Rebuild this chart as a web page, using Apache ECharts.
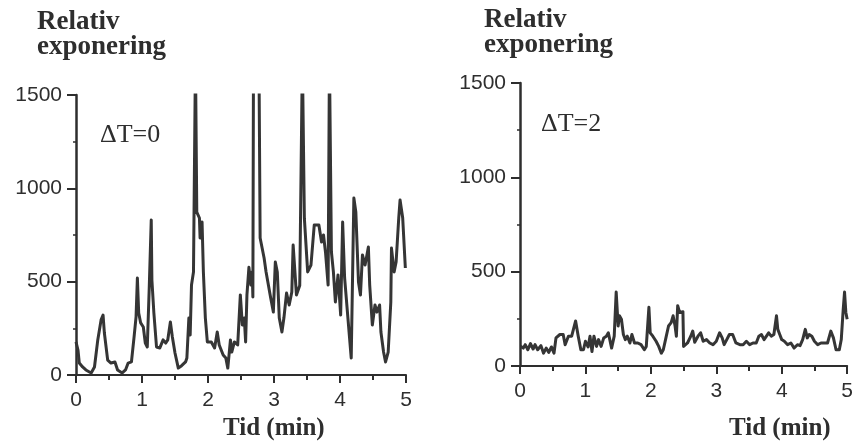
<!DOCTYPE html>
<html>
<head>
<meta charset="utf-8">
<script src="https://cdn.jsdelivr.net/npm/echarts@6/dist/echarts.min.js"></script>
<style>
  html, body { margin: 0; padding: 0; background: #ffffff; }
  #chart { width: 856px; height: 443px; }
</style>
</head>
<body>
<div id="chart"></div>
<script>
// Relative exposure over time, two conditions (ΔT=0 and ΔT=2)
const xTicks = [0, 1, 2, 3, 4, 5];
const yTicks = [0, 500, 1000, 1500];

// ΔT=0 trace: time (min) and relative exposure
const timeDT0 = [0, 0.03, 0.05, 0.10, 0.15, 0.23, 0.28, 0.33, 0.38, 0.41, 0.43, 0.48, 0.53, 0.59, 0.63, 0.66, 0.70, 0.75, 0.79, 0.84,
  0.88, 0.91, 0.93, 0.95, 0.98, 1.02, 1.05, 1.08, 1.11, 1.14, 1.15, 1.18, 1.22, 1.27, 1.32, 1.36, 1.39, 1.43, 1.46, 1.50,
  1.55, 1.60, 1.66, 1.68, 1.71, 1.73, 1.75, 1.78, 1.81, 1.83, 1.87, 1.88, 1.91, 1.93, 1.96, 1.99, 2.05, 2.10, 2.14, 2.17,
  2.23, 2.27, 2.30, 2.34, 2.36, 2.40, 2.45, 2.49, 2.52, 2.55, 2.57, 2.59, 2.62, 2.65, 2.67, 2.68, 2.69, 2.73, 2.77, 2.79,
  2.85, 2.88, 2.91, 2.95, 2.99, 3.02, 3.05, 3.08, 3.12, 3.15, 3.19, 3.23, 3.27, 3.29, 3.34, 3.39, 3.43, 3.46, 3.51, 3.56,
  3.61, 3.68, 3.72, 3.75, 3.78, 3.82, 3.84, 3.87, 3.90, 3.93, 3.97, 4.01, 4.04, 4.07, 4.12, 4.17, 4.21, 4.24, 4.28, 4.31,
  4.34, 4.38, 4.40, 4.43, 4.45, 4.49, 4.53, 4.56, 4.60, 4.62, 4.66, 4.69, 4.73, 4.77, 4.78, 4.82, 4.85, 4.89, 4.91, 4.95, 4.99];
const exposureDT0 = [177, 134, 64, 43, 27, 11, 43, 188, 295, 321, 225, 80, 64, 70, 27, 37, 11, 27, 64, 70,
  204, 311, 520, 332, 279, 257, 171, 150, 471, 830, 509, 332, 150, 145, 188, 171, 188, 284, 204, 118,
  37, 50, 70, 91, 305, 214, 482, 552, 1700, 873, 841, 734, 820, 552, 305, 177, 177, 145, 230, 161,
  107, 91, 37, 188, 123, 177, 161, 429, 268, 305, 177, 429, 577, 482, 552, 418, 1800, 1900, 1800, 734,
  627, 552, 560, 412, 337, 605, 552, 305, 230, 305, 439, 375, 445, 696, 429, 480, 1700, 840, 552, 589,
  804, 804, 712, 750, 659, 482, 1700, 659, 552, 391, 536, 321, 820, 520, 305, 91, 948, 873, 498, 429,
  643, 589, 627, 686, 482, 268, 375, 337, 375, 230, 123, 70, 123, 391, 680, 552, 605, 841, 937, 841, 573];

// ΔT=2 trace: time (min) and relative exposure
const timeDT2 = [0.01, 0.05, 0.08, 0.12, 0.16, 0.20, 0.23, 0.27, 0.32, 0.36, 0.40, 0.44, 0.48, 0.52, 0.55, 0.61, 0.66, 0.69, 0.74, 0.79,
  0.85, 0.89, 0.93, 0.97, 1.00, 1.04, 1.07, 1.10, 1.13, 1.17, 1.20, 1.24, 1.28, 1.32, 1.35, 1.40, 1.44, 1.47, 1.50, 1.52,
  1.55, 1.58, 1.61, 1.64, 1.68, 1.71, 1.75, 1.80, 1.85, 1.90, 1.93, 1.97, 1.99, 2.03, 2.08, 2.12, 2.16, 2.19, 2.23, 2.27,
  2.31, 2.34, 2.37, 2.39, 2.41, 2.44, 2.47, 2.49, 2.50, 2.56, 2.61, 2.64, 2.67, 2.72, 2.76, 2.80, 2.85, 2.90, 2.95, 3.00,
  3.05, 3.09, 3.12, 3.16, 3.20, 3.25, 3.30, 3.36, 3.41, 3.46, 3.51, 3.56, 3.61, 3.65, 3.69, 3.73, 3.76, 3.80, 3.84, 3.88,
  3.92, 3.94, 3.97, 4.00, 4.04, 4.09, 4.14, 4.19, 4.24, 4.28, 4.32, 4.36, 4.39, 4.42, 4.46, 4.50, 4.55, 4.60, 4.65, 4.70,
  4.75, 4.79, 4.83, 4.88, 4.91, 4.94, 4.96, 4.98, 5.00];
const exposureDT2 = [104, 95, 113, 86, 119, 90, 113, 86, 108, 68, 95, 72, 101, 68, 149, 167, 167, 113, 158, 158,
  239, 158, 86, 86, 131, 101, 158, 77, 158, 104, 140, 104, 149, 158, 176, 95, 158, 392, 212, 266,
  248, 167, 140, 158, 122, 167, 122, 122, 113, 86, 104, 311, 176, 158, 131, 104, 68, 86, 149, 212,
  230, 266, 212, 158, 320, 284, 284, 288, 104, 122, 158, 185, 126, 158, 176, 131, 140, 122, 113, 131,
  176, 149, 113, 140, 167, 167, 122, 113, 113, 131, 113, 122, 122, 158, 167, 140, 149, 176, 158, 167,
  266, 194, 167, 140, 131, 113, 122, 95, 113, 108, 140, 194, 149, 167, 158, 131, 113, 122, 122, 122,
  185, 149, 86, 86, 140, 302, 392, 284, 248];

const pairs = (ts, vs) => ts.map((t, i) => [t, vs[i]]);

const ink = '#2e2e2e';
const lineInk = '#353535';
const serif = '"Liberation Serif", "DejaVu Serif", serif';
const sans = '"Liberation Sans", Arial, sans-serif';

function xAxisFor(gridIndex) {
  return {
    gridIndex, type: 'value', min: xTicks[0], max: xTicks[xTicks.length - 1], interval: 1,
    axisLine: { show: true, onZero: false, lineStyle: { color: ink, width: 2 } },
    axisTick: { show: true, length: 8, lineStyle: { color: ink, width: 2 } },
    minorTick: { show: true, splitNumber: 2, length: 5, lineStyle: { color: ink, width: 2 } },
    splitLine: { show: false }, minorSplitLine: { show: false },
    axisLabel: { color: ink, fontSize: 21, fontFamily: sans, margin: 15, formatter: v => String(v) }
  };
}
function yAxisFor(gridIndex) {
  return {
    gridIndex, type: 'value', min: yTicks[0], max: yTicks[yTicks.length - 1], interval: 500,
    axisLine: { show: true, onZero: false, lineStyle: { color: ink, width: 2.5 } },
    axisTick: { show: true, length: 9, lineStyle: { color: ink, width: 2 } },
    minorTick: { show: true, splitNumber: 2, length: 3, lineStyle: { color: ink, width: 1.5 } },
    splitLine: { show: false }, minorSplitLine: { show: false },
    axisLabel: { color: ink, fontSize: 21, fontFamily: sans, margin: 14, formatter: v => String(v) }
  };
}

const headStyle = { fontFamily: serif, fontWeight: 'bold', fontSize: 27, lineHeight: 25, color: ink };
const tagStyle = { fontFamily: serif, fontWeight: 'normal', fontSize: 26, color: ink };
const axisNameStyle = { fontFamily: serif, fontWeight: 'bold', fontSize: 25, color: ink };

const chart = echarts.init(document.getElementById('chart'), null, { renderer: 'canvas' });
chart.setOption({
  backgroundColor: '#ffffff',
  animation: false,
  title: [
    { text: 'Relativ\nexponering', left: 37, top: 10, padding: 0, textStyle: headStyle },
    { text: 'Relativ\nexponering', left: 484, top: 8, padding: 0, textStyle: headStyle },
    { text: 'ΔT=0', left: 100, top: 122, padding: 0, textStyle: tagStyle },
    { text: 'ΔT=2', left: 541, top: 111, padding: 0, textStyle: tagStyle },
    { text: 'Tid (min)', left: 223, top: 416, padding: 0, textStyle: axisNameStyle },
    { text: 'Tid (min)', left: 729, top: 416, padding: 0, textStyle: axisNameStyle }
  ],
  grid: [
    { left: 76, top: 95, width: 330, height: 280 },
    { left: 520, top: 83, width: 329, height: 283 }
  ],
  xAxis: [xAxisFor(0), xAxisFor(1)],
  yAxis: [yAxisFor(0), yAxisFor(1)],
  series: [
    {
      name: 'ΔT=0', type: 'line', xAxisIndex: 0, yAxisIndex: 0, clip: true,
      showSymbol: false, symbol: 'none', smooth: false,
      lineStyle: { color: lineInk, width: 3, join: 'round' },
      data: pairs(timeDT0, exposureDT0)
    },
    {
      name: 'ΔT=2', type: 'line', xAxisIndex: 1, yAxisIndex: 1, clip: true,
      showSymbol: false, symbol: 'none', smooth: false,
      lineStyle: { color: lineInk, width: 3, join: 'round' },
      data: pairs(timeDT2, exposureDT2)
    }
  ]
});
</script>
</body>
</html>
